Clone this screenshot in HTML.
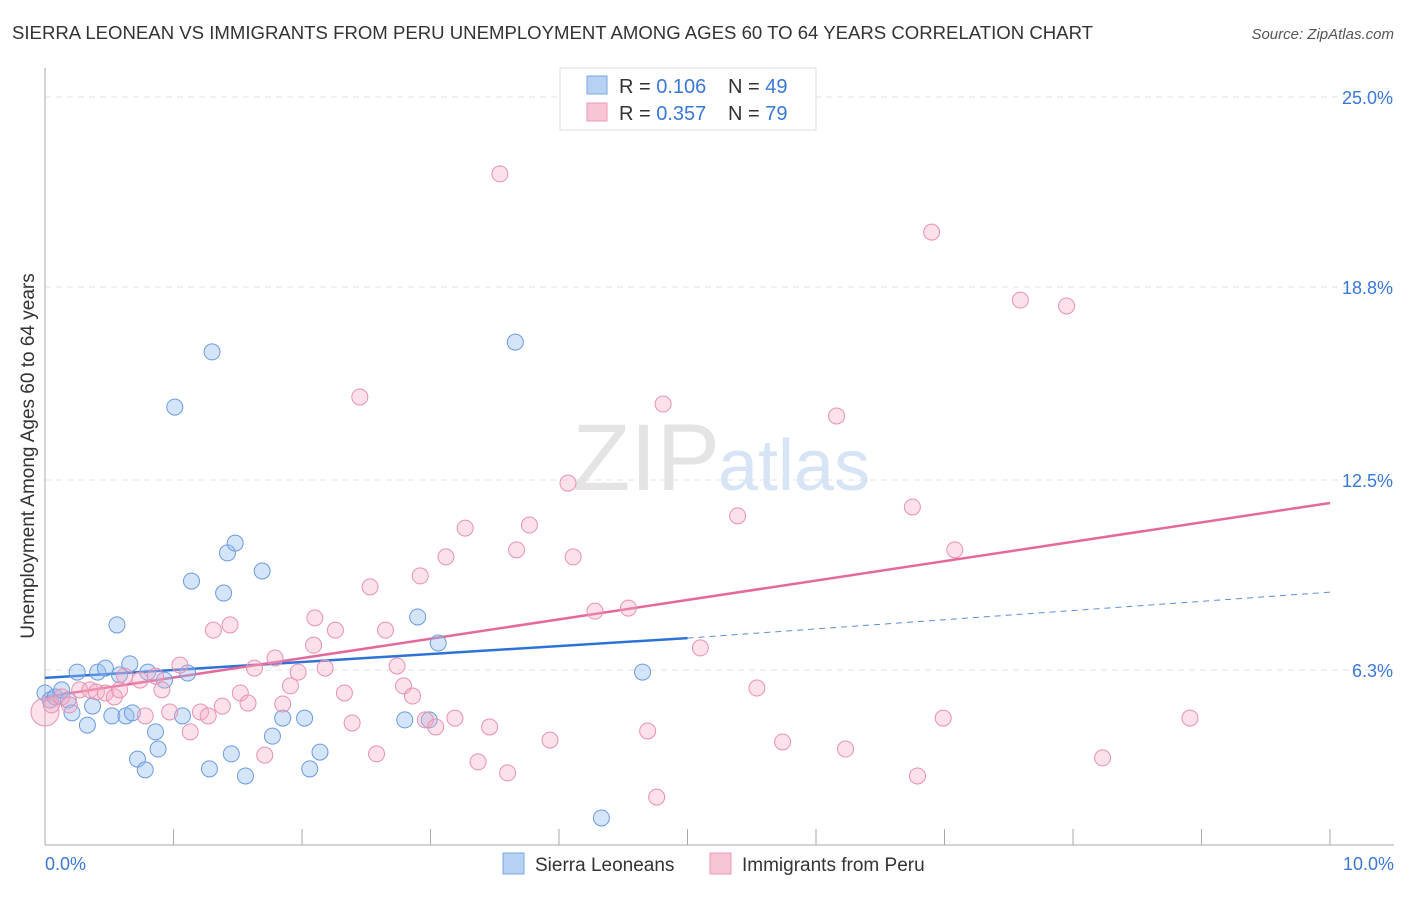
<!DOCTYPE html>
<html><head><meta charset="utf-8"><style>
body{margin:0;background:#fff;font-family:"Liberation Sans",sans-serif;}
svg text{font-family:"Liberation Sans",sans-serif;}
</style></head><body>
<svg id="chart" width="1406" height="892">
<text x="12" y="39" font-size="18" fill="#333" textLength="1081" lengthAdjust="spacingAndGlyphs">SIERRA LEONEAN VS IMMIGRANTS FROM PERU UNEMPLOYMENT AMONG AGES 60 TO 64 YEARS CORRELATION CHART</text>
<text x="1394" y="39" font-size="15" fill="#555" font-style="italic" text-anchor="end">Source: ZipAtlas.com</text>
<text x="720" y="490" font-size="95" fill="#e4e4e4" text-anchor="end" font-family="Liberation Serif">ZIP</text>
<text x="718" y="490" font-size="72" fill="#d6e4f5">atlas</text>
<g id="grid"></g><g id="axes"></g>
<text transform="translate(34,456) rotate(-90)" font-size="19" fill="#333" text-anchor="middle">Unemployment Among Ages 60 to 64 years</text>
<g id="trend"></g><g id="points"></g>
<g>
<rect x="560" y="68" width="256" height="62" fill="#fff" stroke="#ddd"/>
<rect x="587" y="76" width="20" height="18" fill="#b7d1f4" stroke="#7aa7e0"/>
<text x="619" y="93" font-size="20" fill="#333">R = <tspan fill="#3a78d8">0.106</tspan><tspan x="728">N = </tspan><tspan fill="#3a78d8">49</tspan></text>
<rect x="587" y="103" width="20" height="18" fill="#f8c5d5" stroke="#ea9ab5"/>
<text x="619" y="120" font-size="20" fill="#333">R = <tspan fill="#3a78d8">0.357</tspan><tspan x="728">N = </tspan><tspan fill="#3a78d8">79</tspan></text>
</g>
<g>
<rect x="503" y="853" width="21" height="21" fill="#b7d1f4" stroke="#7aa7e0"/>
<text x="535" y="871" font-size="19" fill="#333">Sierra Leoneans</text>
<rect x="710" y="853" width="21" height="21" fill="#f8c5d5" stroke="#ea9ab5"/>
<text x="742" y="871" font-size="19" fill="#333">Immigrants from Peru</text>
</g>
</svg>
<script>
const xTicks=[0,1,2,3,4,5,6,7,8,9,10];
const yTicks=[6.3,12.5,18.8,25.0];
const yTickLabels=["6.3%","12.5%","18.8%","25.0%"];
const blueX=[0.00,0.04,0.08,0.13,0.18,0.21,0.25,0.33,0.37,0.41,0.47,0.52,0.56,0.58,0.63,0.66,0.68,0.72,0.78,0.80,0.86,0.88,0.93,1.01,1.07,1.11,1.14,1.28,1.30,1.39,1.42,1.45,1.48,1.56,1.69,1.77,1.85,2.02,2.06,2.14,2.80,2.90,2.99,3.06,3.66,4.33,4.65];
const blueY=[5.55,5.32,5.42,5.65,5.32,4.90,6.23,4.50,5.12,6.23,6.36,4.80,7.77,6.14,4.80,6.50,4.90,3.39,3.04,6.23,4.28,3.72,5.97,14.88,4.80,6.20,9.20,3.07,16.68,8.81,10.12,3.56,10.44,2.84,9.53,4.14,4.73,4.73,3.07,3.62,4.67,8.03,4.67,7.18,17.00,1.47,6.23];
const pinkX=[0.00,0.05,0.13,0.19,0.27,0.35,0.40,0.47,0.54,0.58,0.62,0.74,0.78,0.86,0.91,0.97,1.05,1.13,1.21,1.27,1.31,1.38,1.44,1.52,1.58,1.63,1.71,1.79,1.85,1.91,1.97,2.09,2.10,2.18,2.26,2.33,2.39,2.45,2.53,2.58,2.65,2.74,2.79,2.86,2.92,2.96,3.04,3.12,3.19,3.27,3.37,3.46,3.54,3.60,3.67,3.77,3.93,4.07,4.11,4.28,4.54,4.69,4.76,4.81,5.10,5.39,5.54,5.74,6.16,6.23,6.75,6.79,6.90,6.99,7.08,7.59,7.95,8.23,8.91];
const pinkY=[4.93,5.16,5.42,5.16,5.65,5.65,5.58,5.55,5.42,5.65,6.10,5.97,4.80,6.10,5.65,4.93,6.46,4.28,4.93,4.80,7.60,5.12,7.77,5.55,5.22,6.36,3.52,6.69,5.19,5.78,6.23,7.11,8.00,6.36,7.60,5.55,4.57,15.21,9.01,3.56,7.60,6.43,5.78,5.45,9.37,4.67,4.44,9.99,4.73,10.93,3.30,4.44,22.49,2.94,10.22,11.03,4.01,12.40,9.99,8.22,8.32,4.31,2.15,14.98,7.02,11.33,5.71,3.95,14.59,3.72,11.62,2.84,20.59,4.73,10.22,18.37,18.18,3.43,4.73];
const blueTrend=[6.04,7.34,8.84]; // at x=0,5,10
const pinkTrend=[5.42,11.75]; // at x=0,10
const NS="http://www.w3.org/2000/svg";
const sx=v=>45+v*128.5, sy=v=>863-v*30.64;
function mk(tag,attrs,parent){const e=document.createElementNS(NS,tag);for(const k in attrs)e.setAttribute(k,attrs[k]);document.getElementById(parent).appendChild(e);return e;}
yTicks.forEach((t,i)=>{
 const g=mk('line',{x1:45,x2:1394,y1:sy(t),y2:sy(t),stroke:'#e2e2e2','stroke-dasharray':'6,5'},'grid');
 
 
 const l=mk('text',{x:1393,y:sy(t)+7,'font-size':18,fill:'#3a78d8','text-anchor':'end'},'grid');
 l.textContent=yTickLabels[i];
 
 
});
const ya=mk('line',{x1:45,x2:45,y1:68,y2:845,stroke:'#aaa'},'axes');


const xa=mk('line',{x1:45,x2:1394,y1:845,y2:845,stroke:'#aaa'},'axes');


xTicks.forEach(t=>{const m=mk('line',{x1:sx(t),x2:sx(t),y1:829,y2:845,stroke:'#aaa'},'axes');
 
 });
const xl0=mk('text',{x:45,y:870,'font-size':18,fill:'#3a78d8'},'axes');xl0.textContent='0.0%';


const xl1=mk('text',{x:1394,y:870,'font-size':18,fill:'#3a78d8','text-anchor':'end'},'axes');xl1.textContent='10.0%';


blueX.forEach((x,i)=>{const c=mk('circle',{cx:sx(x),cy:sy(blueY[i]),r:8,fill:'rgba(150,190,240,0.4)',stroke:'#6b9be0','stroke-width':1},'points');
 
 });
pinkX.forEach((x,i)=>{const c=mk('circle',{cx:sx(x),cy:sy(pinkY[i]),r:i==0?14:8,fill:'rgba(245,170,195,0.35)',stroke:'#e991b0','stroke-width':1},'points');
 
 });
const b1=mk('line',{x1:sx(0),y1:sy(blueTrend[0]),x2:sx(5),y2:sy(blueTrend[1]),stroke:'#2f72d6','stroke-width':2.5},'trend');


const b2=mk('line',{x1:sx(5),y1:sy(blueTrend[1]),x2:sx(10),y2:sy(blueTrend[2]),stroke:'#5a8fd8','stroke-width':1,'stroke-dasharray':'6,5'},'trend');


const p1=mk('line',{x1:sx(0),y1:sy(pinkTrend[0]),x2:sx(10),y2:sy(pinkTrend[1]),stroke:'#e4699a','stroke-width':2.5},'trend');


</script>
</body></html>
